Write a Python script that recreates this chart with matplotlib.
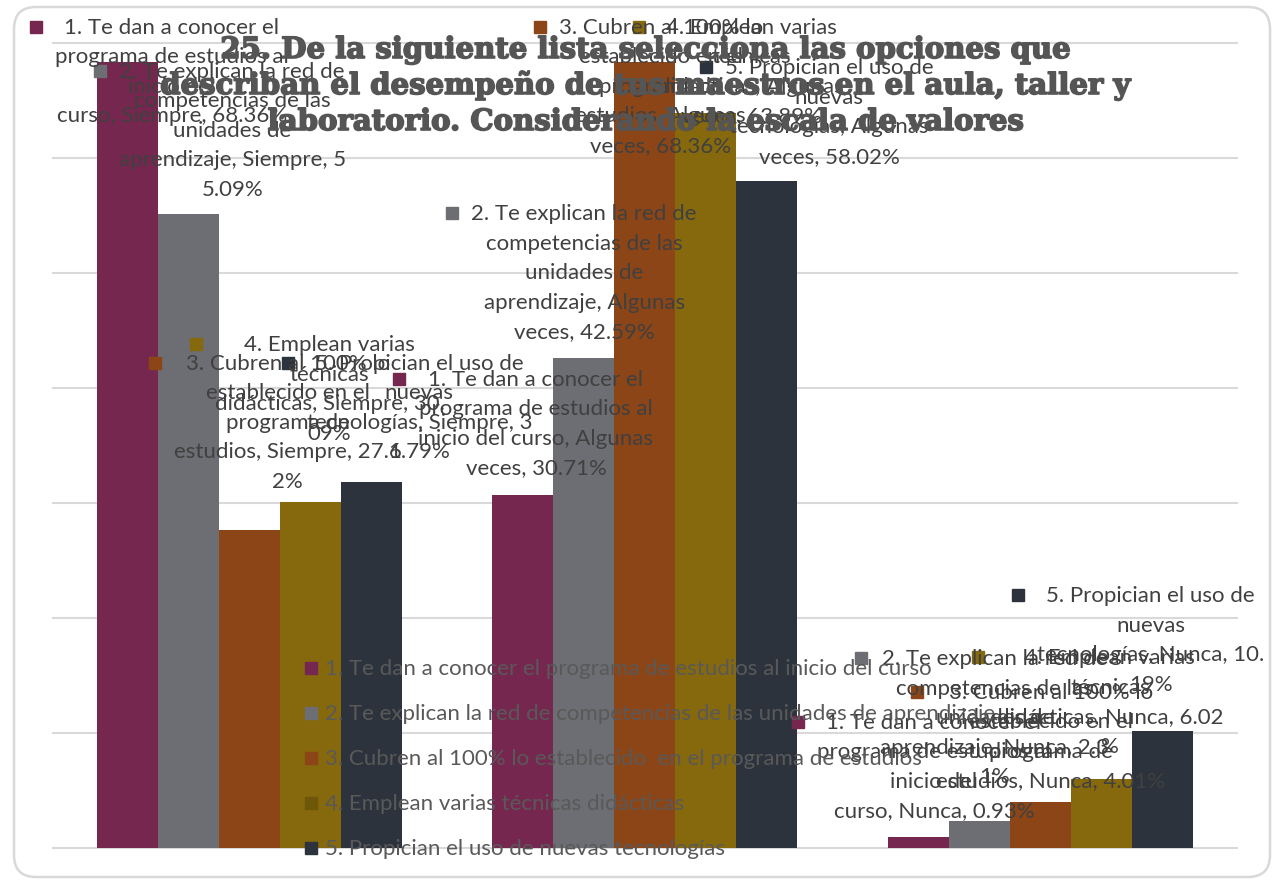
import matplotlib
matplotlib.use("Agg")
import matplotlib.pyplot as plt
from matplotlib.patches import Rectangle, FancyBboxPatch
from matplotlib.font_manager import FontProperties
from matplotlib.transforms import IdentityTransform
import matplotlib.patheffects as pe
import numpy as np

# ---------------- data ----------------
CATEGORIES = ["Siempre", "Algunas veces", "Nunca"]
SERIES_NAMES = [
    "1. Te dan a conocer el programa de estudios al inicio del curso",
    "2. Te explican la red de competencias de las unidades de aprendizaje",
    "3. Cubren al 100% lo establecido  en el programa de estudios",
    "4. Emplean varias técnicas didácticas",
    "5. Propician el uso de nuevas tecnologías",
]
S1_VALUES = [68.36, 30.71, 0.93]
S2_VALUES = [55.09, 42.59, 2.31]
S3_VALUES = [27.62, 68.36, 4.01]
S4_VALUES = [30.09, 63.89, 6.02]
S5_VALUES = [31.79, 58.02, 10.19]
SERIES_VALUES = [S1_VALUES, S2_VALUES, S3_VALUES, S4_VALUES, S5_VALUES]
COLORS = ["#76274F", "#6D6E73", "#8C4516", "#86690C", "#2C333D"]
LEGEND_KEY_COLORS = ["#76274F", "#6D6E73", "#8C4516", "#6E5709", "#2C333D"]
TITLE_LINES = [
    "25. De la siguiente lista selecciona las opciones que",
    "describan el desempeño de tus maestros en el aula, taller y",
    "laboratorio. Considerando la escala de valores",
]
Y_TICKS = [0, 10, 20, 30, 40, 50, 60, 70]

# data-label anchor positions (data coords of first-line centre), series-major
LABEL_POS = [
    [(-0.196, 71.4), (0.725, 40.8), (1.731, 11.0)],
    [(-0.043, 67.6), (0.847, 55.2), (1.885, 16.5)],
    [(0.097, 42.2), (1.040, 71.4), (2.027, 13.6)],
    [(0.203, 43.8), (1.269, 71.4), (2.176, 16.6)],
    [(0.430, 42.2), (1.466, 67.9), (2.279, 22.0)],
]

# ---------------- figure ----------------
FW, FH = 1273, 880
fig = plt.figure(figsize=(FW / 100, FH / 100), dpi=100)
fig.patch.set_facecolor("white")
PXU = 11.5          # pixels per percentage unit
PAD = 0.15
ax = fig.add_axes([51.5 / FW, (32 - PAD * PXU) / FH, 1186.5 / FW, (805 + 2 * PAD * PXU) / FH])
ax.set_xlim(-0.5, 2.5)
ax.set_ylim(-PAD, 70 + PAD)
ax.patch.set_alpha(0)

x = np.arange(len(CATEGORIES))
bw = 0.154
for i, vals in enumerate(SERIES_VALUES):
    ax.bar(x + (i - 2) * bw, vals, bw, color=COLORS[i], linewidth=0, zorder=2)

ax.set_yticks(Y_TICKS)
ax.set_xticks([])
ax.yaxis.grid(True, color="#d9d9d9", linewidth=1.5)
ax.set_axisbelow(True)
ax.tick_params(length=0, labelleft=False, labelbottom=False)
for s in ax.spines.values():
    s.set_visible(False)

# ---------------- data labels ----------------
renderer = fig.canvas.get_renderer()
prop = FontProperties(family="Lato", size=16)
LABEL_COLOR = "#404040"
LINE = 29.5


def tw(s):
    return renderer.get_text_width_height_descent(s.replace("\u00a0", " "), prop, ismath=False)[0]


WRAP_W = tw("inicio del curso, Algunas") + 2


def wrap(tokens):
    lines, cur = [], ""
    for tok in tokens:
        cand = (cur + " " + tok) if cur else tok
        if tw(cand) <= WRAP_W:
            cur = cand
            continue
        if cur:
            lines.append(cur)
            cur = ""
        if tw(tok) <= WRAP_W:
            cur = tok
        else:
            piece = ""
            for ch in tok:
                if tw(piece + ch) <= WRAP_W:
                    piece += ch
                else:
                    lines.append(piece)
                    piece = ch
            cur = piece
    if cur:
        lines.append(cur)
    return [l.replace("\u00a0", " ") for l in lines]


for i in range(len(SERIES_NAMES)):
    name = " ".join(SERIES_NAMES[i].split())
    for j in range(len(CATEGORIES)):
        text = name + ",\u00a0" + CATEGORIES[j] + ",\u00a0" + f"{SERIES_VALUES[i][j]:.2f}%"
        lines = wrap(text.split(" "))
        X, Y = ax.transData.transform(LABEL_POS[i][j])
        for k, ln in enumerate(lines):
            fig.text(X / FW, (Y - k * LINE - 7) / FH, ln, ha="center", va="baseline",
                     fontproperties=prop, color=LABEL_COLOR, zorder=5)
        blk = max(tw(l) for l in lines)
        kx = X - blk / 2 - 13 - 12
        fig.add_artist(Rectangle((kx / FW, (Y - 6) / FH), 12 / FW, 12 / FH,
                                 transform=fig.transFigure, color=COLORS[i], zorder=5))

# ---------------- legend ----------------
LEG_COLOR = "#595959"
leg_prop = FontProperties(family="Lato", size=16)
for i, nm in enumerate(SERIES_NAMES):
    yc = FH - (668 + 45 * i)
    fig.add_artist(Rectangle((305 / FW, (yc - 6) / FH), 12 / FW, 12 / FH,
                             transform=fig.transFigure, color=LEGEND_KEY_COLORS[i], zorder=6))
    fig.text(325 / FW, (yc - 7) / FH, nm, ha="left", va="baseline",
             fontproperties=leg_prop, color=LEG_COLOR, zorder=6)

# ---------------- title ----------------
TITLE_COLOR = "#555555"
for k, ln in enumerate(TITLE_LINES):
    fig.text(646 / FW, (FH - (58 + 36 * k)) / FH, ln, ha="center", va="baseline",
             family="DejaVu Serif", weight="bold", size=21, color=TITLE_COLOR, zorder=10,
             path_effects=[pe.withStroke(linewidth=1.2, foreground=TITLE_COLOR)])

# ---------------- outer rounded border ----------------
fig.add_artist(FancyBboxPatch((14, 3), 1256, 870, boxstyle="round,pad=0,rounding_size=22",
                              transform=IdentityTransform(), fill=False,
                              edgecolor="#d9d9d9", linewidth=1.8, zorder=1))

fig.savefig("out.png", dpi=100, facecolor="white")
